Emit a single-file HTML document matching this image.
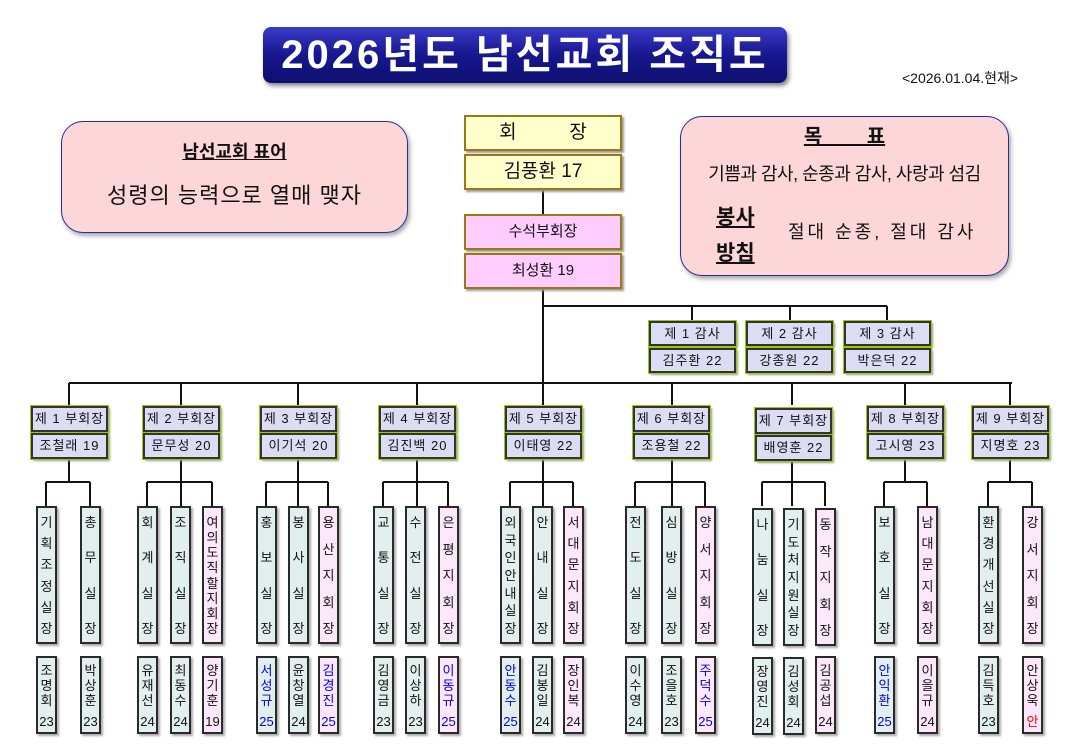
<!DOCTYPE html>
<html><head><meta charset="utf-8"><style>
*{margin:0;padding:0;box-sizing:border-box}
body{width:1080px;height:751px;background:#fff;position:relative;overflow:hidden;font-family:"Liberation Sans","Noto Sans CJK KR","NanumGothic",sans-serif;color:#111}
.a{position:absolute}
.title{left:263px;top:27px;width:524px;height:56px;border-radius:8px;background:linear-gradient(#3a3ac8,#17178f 50%,#0e0e70);box-shadow:2px 3px 4px #888;color:#fff;font-weight:bold;font-size:40px;text-align:center;line-height:56px;letter-spacing:3px}
.rb{background:#fdd7d7;border:1.5px solid #2a2a9a;border-radius:22px;box-shadow:2px 3px 4px #aaa}
.bx{position:absolute;border:2px solid #222;box-shadow:2px 2px 2px #999;text-align:center}
.y{background:#ffffcc;border-color:#9a7a10;font-size:19px}
.pk{background:#ffccff;border-color:#9a7a10;font-size:15px}
.g{background:#dcdcf4;border-color:#333;outline:1px solid #9c0;font-size:13px;letter-spacing:1px}
.c{position:absolute;width:21px;top:506px;height:138px;background:#e2efef;border:2px solid #2a2a2a;box-shadow:2px 2px 2px #aaa;display:flex;flex-direction:column;justify-content:space-between;align-items:center;padding:8px 0 6px;font-size:13px;line-height:14px}
.n{position:absolute;width:21px;top:656px;height:78px;background:#e2efef;border:2px solid #2a2a2a;box-shadow:2px 2px 2px #aaa;display:flex;flex-direction:column;align-items:center;padding-top:5px;font-size:13px;line-height:15px}
.n i{font-style:normal;margin-top:6px;font-size:13px}
.p{background:#fde8fb}
.b{color:#0000e0}
.r{color:#f00}
</style></head><body>
<div class="a title">2026년도 남선교회 조직도</div>
<div class="a" style="left:902px;top:68px;font-size:14px">&lt;2026.01.04.현재&gt;</div>

<div class="a rb" style="left:61px;top:121px;width:347px;height:112px"></div>
<div class="a" style="left:61px;top:138px;width:347px;text-align:center;font-size:18px;font-weight:bold"><u>남선교회 표어</u></div>
<div class="a" style="left:61px;top:178px;width:347px;text-align:center;font-size:22px;letter-spacing:1px">성령의 능력으로 열매 맺자</div>

<div class="a rb" style="left:680px;top:116px;width:329px;height:160px"></div>
<div class="a" style="left:680px;top:120px;width:329px;text-align:center;font-size:20px;font-weight:bold"><u>목&nbsp;&nbsp;&nbsp;&nbsp;&nbsp;&nbsp;&nbsp;&nbsp;표</u></div>
<div class="a" style="left:680px;top:160px;width:329px;text-align:center;font-size:18px;letter-spacing:-0.5px">기쁨과 감사, 순종과 감사, 사랑과 섬김</div>
<div class="a" style="left:716px;top:200px;font-size:21px;font-weight:bold;line-height:36px"><u>봉사</u><br><u>방침</u></div>
<div class="a" style="left:788px;top:218px;font-size:18px;letter-spacing:3px">절대 순종, 절대 감사</div>

<svg class="a" style="left:0;top:0" width="1080" height="751">
<g stroke="#111" stroke-width="2" fill="none">
<path d="M543 190V214M543 289V383M543 306H887M692 306V320M790 306V320M887 306V320"/>
<path d="M69 383H1012M69 383V405M181 383V405M298 383V405M417 383V405M543 383V405M672 383V405M792 383V405M905 383V405M1010 383V405"/>
<path d="M69 459V482M46 482H90M46 482V506M90 482V506"/>
<path d="M181 459V506M147 482H212M147 482V506M212 482V506"/>
<path d="M298 459V506M266 482H328M266 482V506M328 482V506"/>
<path d="M417 459V506M383 482H448M383 482V506M448 482V506"/>
<path d="M543 459V506M510 482H573M510 482V506M573 482V506"/>
<path d="M672 459V506M635 482H705M635 482V506M705 482V506"/>
<path d="M792 459V506M762 482H825M762 482V506M825 482V506"/>
<path d="M905 459V482M884 482H927M884 482V506M927 482V506"/>
<path d="M1010 459V482M988 482H1032M988 482V506M1032 482V506"/>
</g></svg>

<div class="bx y" style="left:464px;top:115px;width:158px;height:36px;line-height:32px">회&nbsp;&nbsp;&nbsp;&nbsp;&nbsp;&nbsp;&nbsp;&nbsp;&nbsp;&nbsp;장</div>
<div class="bx y" style="left:464px;top:154px;width:158px;height:36px;line-height:32px">김풍환 17</div>
<div class="bx pk" style="left:464px;top:214px;width:158px;height:36px;line-height:32px">수석부회장</div>
<div class="bx pk" style="left:464px;top:253px;width:158px;height:36px;line-height:32px">최성환 19</div>

<div class="bx g" style="left:649px;top:321px;width:87px;height:25px;line-height:21px">제 1 감사</div>
<div class="bx g" style="left:649px;top:348px;width:87px;height:25px;line-height:21px">김주환 22</div>
<div class="bx g" style="left:746px;top:321px;width:87px;height:25px;line-height:21px">제 2 감사</div>
<div class="bx g" style="left:746px;top:348px;width:87px;height:25px;line-height:21px">강종원 22</div>
<div class="bx g" style="left:844px;top:321px;width:87px;height:25px;line-height:21px">제 3 감사</div>
<div class="bx g" style="left:844px;top:348px;width:87px;height:25px;line-height:21px">박은덕 22</div>

<div class="bx g" style="left:31px;top:406px;width:77px;height:26px;line-height:22px">제 1 부회장</div>
<div class="bx g" style="left:31px;top:433px;width:77px;height:26px;line-height:22px">조철래 19</div>
<div class="bx g" style="left:143px;top:406px;width:77px;height:26px;line-height:22px">제 2 부회장</div>
<div class="bx g" style="left:143px;top:433px;width:77px;height:26px;line-height:22px">문무성 20</div>
<div class="bx g" style="left:260px;top:406px;width:77px;height:26px;line-height:22px">제 3 부회장</div>
<div class="bx g" style="left:260px;top:433px;width:77px;height:26px;line-height:22px">이기석 20</div>
<div class="bx g" style="left:379px;top:406px;width:77px;height:26px;line-height:22px">제 4 부회장</div>
<div class="bx g" style="left:379px;top:433px;width:77px;height:26px;line-height:22px">김진백 20</div>
<div class="bx g" style="left:505px;top:406px;width:77px;height:26px;line-height:22px">제 5 부회장</div>
<div class="bx g" style="left:505px;top:433px;width:77px;height:26px;line-height:22px">이태영 22</div>
<div class="bx g" style="left:633px;top:406px;width:77px;height:26px;line-height:22px">제 6 부회장</div>
<div class="bx g" style="left:633px;top:433px;width:77px;height:26px;line-height:22px">조용철 22</div>
<div class="bx g" style="left:755px;top:408px;width:77px;height:26px;line-height:22px">제 7 부회장</div>
<div class="bx g" style="left:755px;top:435px;width:77px;height:26px;line-height:22px">배영훈 22</div>
<div class="bx g" style="left:867px;top:406px;width:77px;height:26px;line-height:22px">제 8 부회장</div>
<div class="bx g" style="left:867px;top:433px;width:77px;height:26px;line-height:22px">고시영 23</div>
<div class="bx g" style="left:972px;top:406px;width:77px;height:26px;line-height:22px">제 9 부회장</div>
<div class="bx g" style="left:972px;top:433px;width:77px;height:26px;line-height:22px">지명호 23</div>

<div class="c" style="left:36px"><span>기</span><span>획</span><span>조</span><span>정</span><span>실</span><span>장</span></div>
<div class="c" style="left:80px"><span>총</span><span>무</span><span>실</span><span>장</span></div>
<div class="c" style="left:137px"><span>회</span><span>계</span><span>실</span><span>장</span></div>
<div class="c" style="left:170px"><span>조</span><span>직</span><span>실</span><span>장</span></div>
<div class="c p" style="left:202px"><span>여</span><span>의</span><span>도</span><span>직</span><span>할</span><span>지</span><span>회</span><span>장</span></div>
<div class="c" style="left:256px"><span>홍</span><span>보</span><span>실</span><span>장</span></div>
<div class="c" style="left:288px"><span>봉</span><span>사</span><span>실</span><span>장</span></div>
<div class="c p" style="left:318px"><span>용</span><span>산</span><span>지</span><span>회</span><span>장</span></div>
<div class="c" style="left:373px"><span>교</span><span>통</span><span>실</span><span>장</span></div>
<div class="c" style="left:405px"><span>수</span><span>전</span><span>실</span><span>장</span></div>
<div class="c p" style="left:438px"><span>은</span><span>평</span><span>지</span><span>회</span><span>장</span></div>
<div class="c" style="left:500px"><span>외</span><span>국</span><span>인</span><span>안</span><span>내</span><span>실</span><span>장</span></div>
<div class="c" style="left:532px"><span>안</span><span>내</span><span>실</span><span>장</span></div>
<div class="c p" style="left:563px"><span>서</span><span>대</span><span>문</span><span>지</span><span>회</span><span>장</span></div>
<div class="c" style="left:625px"><span>전</span><span>도</span><span>실</span><span>장</span></div>
<div class="c" style="left:661px"><span>심</span><span>방</span><span>실</span><span>장</span></div>
<div class="c p" style="left:695px"><span>양</span><span>서</span><span>지</span><span>회</span><span>장</span></div>
<div class="c" style="left:752px;top:508px"><span>나</span><span>눔</span><span>실</span><span>장</span></div>
<div class="c" style="left:783px;top:508px"><span>기</span><span>도</span><span>처</span><span>지</span><span>원</span><span>실</span><span>장</span></div>
<div class="c p" style="left:815px;top:508px"><span>동</span><span>작</span><span>지</span><span>회</span><span>장</span></div>
<div class="c" style="left:874px"><span>보</span><span>호</span><span>실</span><span>장</span></div>
<div class="c p" style="left:917px"><span>남</span><span>대</span><span>문</span><span>지</span><span>회</span><span>장</span></div>
<div class="c" style="left:978px"><span>환</span><span>경</span><span>개</span><span>선</span><span>실</span><span>장</span></div>
<div class="c p" style="left:1022px"><span>강</span><span>서</span><span>지</span><span>회</span><span>장</span></div>

<div class="n" style="left:36px">조<br>명<br>회<i>23</i></div>
<div class="n" style="left:80px">박<br>상<br>훈<i>23</i></div>
<div class="n" style="left:137px">유<br>재<br>선<i>24</i></div>
<div class="n" style="left:170px">최<br>동<br>수<i>24</i></div>
<div class="n p" style="left:202px">양<br>기<br>훈<i>19</i></div>
<div class="n b" style="left:256px">서<br>성<br>규<i>25</i></div>
<div class="n" style="left:288px">윤<br>창<br>열<i>24</i></div>
<div class="n p b" style="left:318px">김<br>경<br>진<i>25</i></div>
<div class="n" style="left:373px">김<br>영<br>금<i>23</i></div>
<div class="n" style="left:405px">이<br>상<br>하<i>23</i></div>
<div class="n p b" style="left:438px">이<br>동<br>규<i>25</i></div>
<div class="n b" style="left:500px">안<br>동<br>수<i>25</i></div>
<div class="n" style="left:532px">김<br>봉<br>일<i>24</i></div>
<div class="n p" style="left:563px">장<br>인<br>복<i>24</i></div>
<div class="n" style="left:625px">이<br>수<br>영<i>24</i></div>
<div class="n" style="left:661px">조<br>을<br>호<i>23</i></div>
<div class="n p b" style="left:695px">주<br>덕<br>수<i>25</i></div>
<div class="n" style="left:752px;top:657px">장<br>영<br>진<i>24</i></div>
<div class="n" style="left:783px;top:657px">김<br>성<br>회<i>24</i></div>
<div class="n p" style="left:815px">김<br>공<br>섭<i>24</i></div>
<div class="n b" style="left:874px">안<br>익<br>환<i>25</i></div>
<div class="n p" style="left:917px">이<br>을<br>규<i>24</i></div>
<div class="n" style="left:978px">김<br>득<br>호<i>23</i></div>
<div class="n p" style="left:1022px">안<br>상<br>욱<i class="r">안</i></div>
</body></html>
